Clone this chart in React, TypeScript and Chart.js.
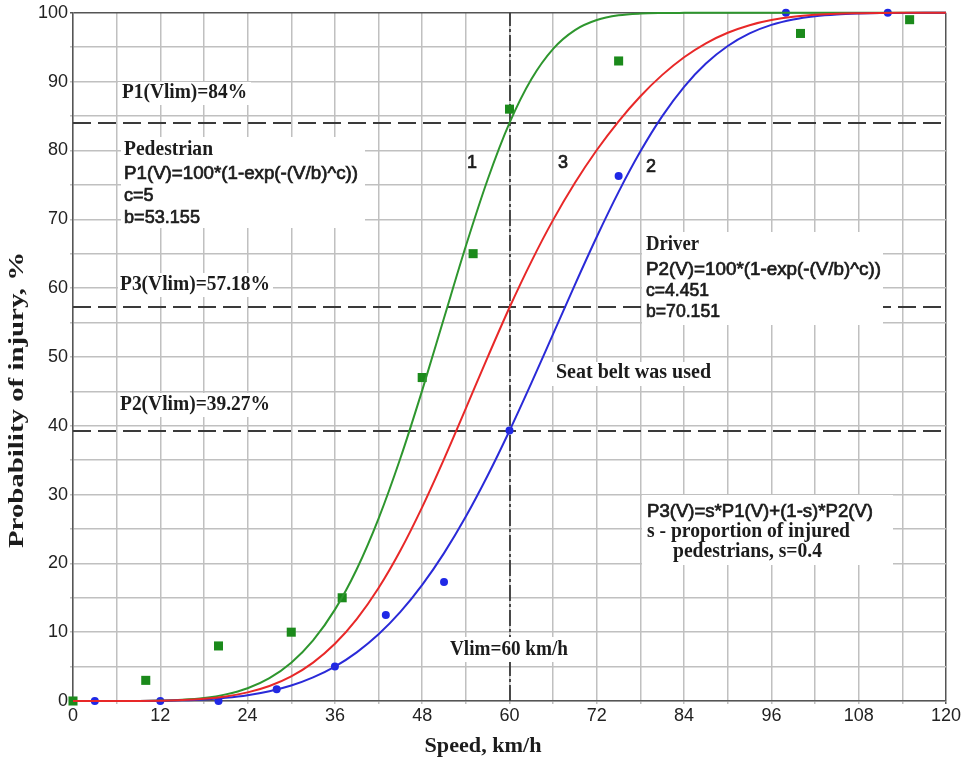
import React, { useEffect, useRef } from "react";
import { Chart, registerables } from "chart.js";
Chart.register(...registerables);

// ---------- data ----------
const speedGrid = [0, 3, 6, 9, 12, 15, 18, 21, 24, 27, 30, 33, 36, 39, 42, 45, 48, 51, 54, 57, 60, 63, 66, 69, 72, 75, 78, 81, 84, 87, 90, 93, 96, 99, 102, 105, 108, 111, 114, 117, 120];
// curve 1 – pedestrian
const pedestrianCurve = [0, 0, 0.002, 0.014, 0.059, 0.18, 0.44, 0.96, 1.86, 3.33, 5.57, 8.81, 13.28, 19.15, 26.51, 35.27, 45.14, 55.65, 66.11, 75.78, 84.0, 90.35, 94.77, 97.49, 98.95, 99.63, 99.89, 99.97, 99.99, 100, 100, 100, 100, 100, 100, 100, 100, 100, 100, 100, 100];
// curve 2 – driver
const driverCurve = [0, 0, 0.002, 0.011, 0.039, 0.1, 0.23, 0.47, 0.84, 1.42, 2.25, 3.43, 5.0, 7.07, 9.69, 12.94, 16.87, 21.49, 26.8, 32.76, 39.27, 46.19, 53.34, 60.51, 67.46, 73.98, 79.87, 84.99, 89.25, 92.62, 95.17, 97.0, 98.24, 99.03, 99.5, 99.76, 99.89, 99.96, 99.98, 99.99, 100];
// curve 3 – combined
const combinedCurve = [0, 0, 0.002, 0.012, 0.047, 0.13, 0.32, 0.66, 1.25, 2.18, 3.58, 5.58, 8.31, 11.9, 16.42, 21.87, 28.18, 35.15, 42.52, 49.97, 57.18, 63.85, 69.91, 75.3, 80.06, 84.24, 87.88, 90.98, 93.55, 95.57, 97.1, 98.2, 98.94, 99.42, 99.7, 99.86, 99.93, 99.98, 99.99, 99.99, 100];

const pedestrianObsSpeed = [0, 10, 20, 30, 37, 48, 55, 60, 75, 100, 115];
const pedestrianObsProb = [0, 3, 8, 10, 15, 47, 65, 86, 93, 97, 99];
const driverObsSpeed = [3, 12, 20, 28, 36, 43, 51, 60, 75, 98, 112];
const driverObsProb = [0, 0, 0, 1.7, 5, 12.5, 17.3, 39.3, 76.3, 100, 100];

const xTickLabels = [0, 12, 24, 36, 48, 60, 72, 84, 96, 108, 120];
const yTickLabels = [0, 10, 20, 30, 40, 50, 60, 70, 80, 90, 100];

const limitSpeed = 60;
const limitLevels = [84, 57.18, 39.27];

// ---------- text annotations ----------
const SERIF = '"Liberation Serif", "Times New Roman", serif';
const SANS = '"Liberation Sans", Arial, sans-serif';
const serifFont = `bold 20px ${SERIF}`;
const sansFont = `18px ${SANS}`;

type Note = { t: string; x: number; y: number; f: string; w?: number; a?: CanvasTextAlign; s?: number };
const notes: Note[] = [
  { t: "P1(Vlim)=84%", x: 122, y: 93, f: serifFont, w: 125 },
  { t: "Pedestrian", x: 124, y: 150, f: serifFont, w: 89 },
  { t: "P1(V)=100*(1-exp(-(V/b)^c))", x: 124, y: 174, f: sansFont, w: 234, s: 0.7 },
  { t: "c=5", x: 124, y: 196, f: sansFont, s: 0.7 },
  { t: "b=53.155", x: 124, y: 218, f: sansFont, w: 76, s: 0.7 },
  { t: "1", x: 472, y: 163, f: sansFont, a: "center", s: 0.7 },
  { t: "3", x: 563, y: 163, f: sansFont, a: "center", s: 0.7 },
  { t: "2", x: 651, y: 167, f: sansFont, a: "center", s: 0.7 },
  { t: "Driver", x: 646, y: 245, f: serifFont, w: 53 },
  { t: "P2(V)=100*(1-exp(-(V/b)^c))", x: 646, y: 270, f: sansFont, w: 235, s: 0.7 },
  { t: "c=4.451", x: 646, y: 291, f: sansFont, w: 63, s: 0.7 },
  { t: "b=70.151", x: 646, y: 312, f: sansFont, w: 74, s: 0.7 },
  { t: "P3(Vlim)=57.18%", x: 120, y: 285, f: serifFont, w: 150 },
  { t: "Seat belt was used", x: 556, y: 373, f: serifFont, w: 155 },
  { t: "P2(Vlim)=39.27%", x: 120, y: 405, f: serifFont, w: 150 },
  { t: "P3(V)=s*P1(V)+(1-s)*P2(V)", x: 647, y: 512, f: sansFont, w: 226, s: 0.7 },
  { t: "s - proportion of injured", x: 647, y: 532, f: serifFont, w: 203 },
  { t: "pedestrians, s=0.4", x: 673, y: 552, f: serifFont, w: 149 },
  { t: "Vlim=60 km/h", x: 450, y: 650, f: serifFont, w: 118 },
];
const whiteBoxes = [
  [118, 82, 133, 23],
  [121, 137, 244, 91],
  [118, 273, 155, 24],
  [118, 393, 155, 24],
  [642, 232, 241, 93],
  [552, 362, 164, 24],
  [642, 495, 251, 70],
  [447, 637, 125, 25],
];

function drawText(ctx: CanvasRenderingContext2D, n: Note) {
  ctx.font = n.f;
  const m = ctx.measureText(n.t).width;
  const sx = n.w ? n.w / m : 1;
  ctx.save();
  ctx.translate(n.x, n.y);
  ctx.scale(sx, 1);
  ctx.textAlign = n.a || "left";
  ctx.textBaseline = "middle";
  ctx.fillStyle = "#1c1c1c";
  ctx.fillText(n.t, 0, 0);
  if (n.s) {
    ctx.strokeStyle = "#1c1c1c";
    ctx.lineWidth = n.s;
    ctx.strokeText(n.t, 0, 0);
  }
  ctx.restore();
}

const overlayPlugin = {
  id: "overlay",
  beforeDraw(chart: any) {
    const { ctx } = chart;
    ctx.save();
    ctx.fillStyle = "#ffffff";
    ctx.fillRect(0, 0, chart.width, chart.height);
    ctx.restore();
  },
  beforeDatasetsDraw(chart: any) {
    const { ctx, chartArea: a, scales } = chart;
    const xs = scales.x, ys = scales.y;
    ctx.save();
    ctx.strokeStyle = "#3a3a3a";
    ctx.lineWidth = 2;
    ctx.setLineDash([18, 7]);
    for (const lv of limitLevels) {
      const py = Math.round(ys.getPixelForValue(lv));
      ctx.beginPath();
      ctx.moveTo(a.left, py);
      ctx.lineTo(a.right, py);
      ctx.stroke();
    }
    ctx.setLineDash([16, 3, 3, 3]);
    ctx.lineWidth = 1.8;
    const px = Math.round(xs.getPixelForValue(limitSpeed));
    ctx.beginPath();
    ctx.moveTo(px, a.bottom);
    ctx.lineTo(px, a.top);
    ctx.stroke();
    ctx.restore();
  },
  afterDatasetsDraw(chart: any) {
    const { ctx } = chart;
    ctx.save();
    ctx.fillStyle = "#ffffff";
    for (const b of whiteBoxes) ctx.fillRect(b[0], b[1], b[2], b[3]);
    for (const n of notes) drawText(ctx, n);
    // axis titles
    ctx.fillStyle = "#1c1c1c";
    ctx.textAlign = "center";
    ctx.textBaseline = "middle";
    ctx.font = `bold 21px ${SERIF}`;
    let t = "Speed, km/h";
    let m = ctx.measureText(t).width;
    ctx.save();
    ctx.translate(483, 747);
    ctx.scale(117 / m, 1);
    ctx.fillText(t, 0, 0);
    ctx.restore();
    ctx.font = `bold 21px ${SERIF}`;
    t = "Probability of injury, %";
    m = ctx.measureText(t).width;
    ctx.save();
    ctx.translate(18, 400);
    ctx.rotate(-Math.PI / 2);
    ctx.scale(296 / m, 1);
    ctx.fillText(t, 0, 0);
    ctx.restore();
    ctx.restore();
  },
};

export default function App() {
  const ref = useRef<HTMLCanvasElement | null>(null);
  useEffect(() => {
    if (!ref.current) return;
    const pts = (xs: number[], ys: number[]) => xs.map((v, i) => ({ x: v, y: ys[i] }));
    const gridColor = (edge: number) => (c: any) =>
      c.tick && c.tick.value === edge ? "#555555" : "#c0c0c0";
    const chart = new Chart(ref.current, {
      type: "scatter",
      data: {
        datasets: [
          {
            label: "3",
            data: pts(speedGrid, combinedCurve),
            showLine: true,
            borderColor: "#e82828",
            borderWidth: 2,
            pointRadius: 0,
            cubicInterpolationMode: "monotone",
            order: 0,
            clip: false,
          },
          {
            label: "2",
            data: pts(speedGrid, driverCurve),
            showLine: true,
            borderColor: "#2a2ad8",
            borderWidth: 2,
            pointRadius: 0,
            cubicInterpolationMode: "monotone",
            order: 1,
            clip: false,
          },
          {
            label: "1",
            data: pts(speedGrid, pedestrianCurve),
            showLine: true,
            borderColor: "#2e962e",
            borderWidth: 2,
            pointRadius: 0,
            cubicInterpolationMode: "monotone",
            order: 2,
            clip: false,
          },
          {
            label: "driver obs",
            data: pts(driverObsSpeed, driverObsProb),
            pointStyle: "circle",
            pointRadius: 4,
            backgroundColor: "#1f28e6",
            borderColor: "#1f28e6",
            borderWidth: 0,
            order: 3,
            clip: false,
          },
          {
            label: "pedestrian obs",
            data: pts(pedestrianObsSpeed, pedestrianObsProb),
            pointStyle: "rect",
            pointRadius: 6.4,
            backgroundColor: "#1b8a1b",
            borderColor: "#1b8a1b",
            borderWidth: 0,
            order: 4,
            clip: false,
          },
        ] as any,
      },
      options: {
        responsive: false,
        animation: false,
        devicePixelRatio: 1,
        layout: { padding: { top: 12, right: 21, left: 0, bottom: 0 } },
        plugins: { legend: { display: false }, tooltip: { enabled: false } },
        scales: {
          x: {
            type: "linear",
            min: 0,
            max: 120,
            afterFit: (s: any) => {
              s.height = 59;
            },
            ticks: {
              stepSize: 6,
              autoSkip: false,
              maxRotation: 0,
              padding: 1,
              color: "#222222",
              font: { family: SANS, size: 18 },
              callback: (v: any) => (xTickLabels.includes(Number(v)) ? String(v) : ""),
            },
            grid: { color: gridColor(120), lineWidth: 1.5, tickLength: 3 },
            border: { color: "#555555", width: 1.5 },
          },
          y: {
            type: "linear",
            min: 0,
            max: 100,
            afterFit: (s: any) => {
              s.width = 73;
            },
            ticks: {
              stepSize: 5,
              autoSkip: false,
              padding: 2,
              color: "#222222",
              font: { family: SANS, size: 18 },
              callback: (v: any) => (yTickLabels.includes(Number(v)) ? String(v) : ""),
            },
            grid: { color: gridColor(100), lineWidth: 1.5, tickLength: 3 },
            border: { color: "#555555", width: 1.5 },
          },
        },
      },
      plugins: [overlayPlugin],
    });
    return () => chart.destroy();
  }, []);
  return (
    <div style={{ position: "absolute", left: 0, top: 0, width: 967, height: 760, background: "#fff" }}>
      <canvas ref={ref} width={967} height={760} style={{ display: "block" }} />
    </div>
  );
}
